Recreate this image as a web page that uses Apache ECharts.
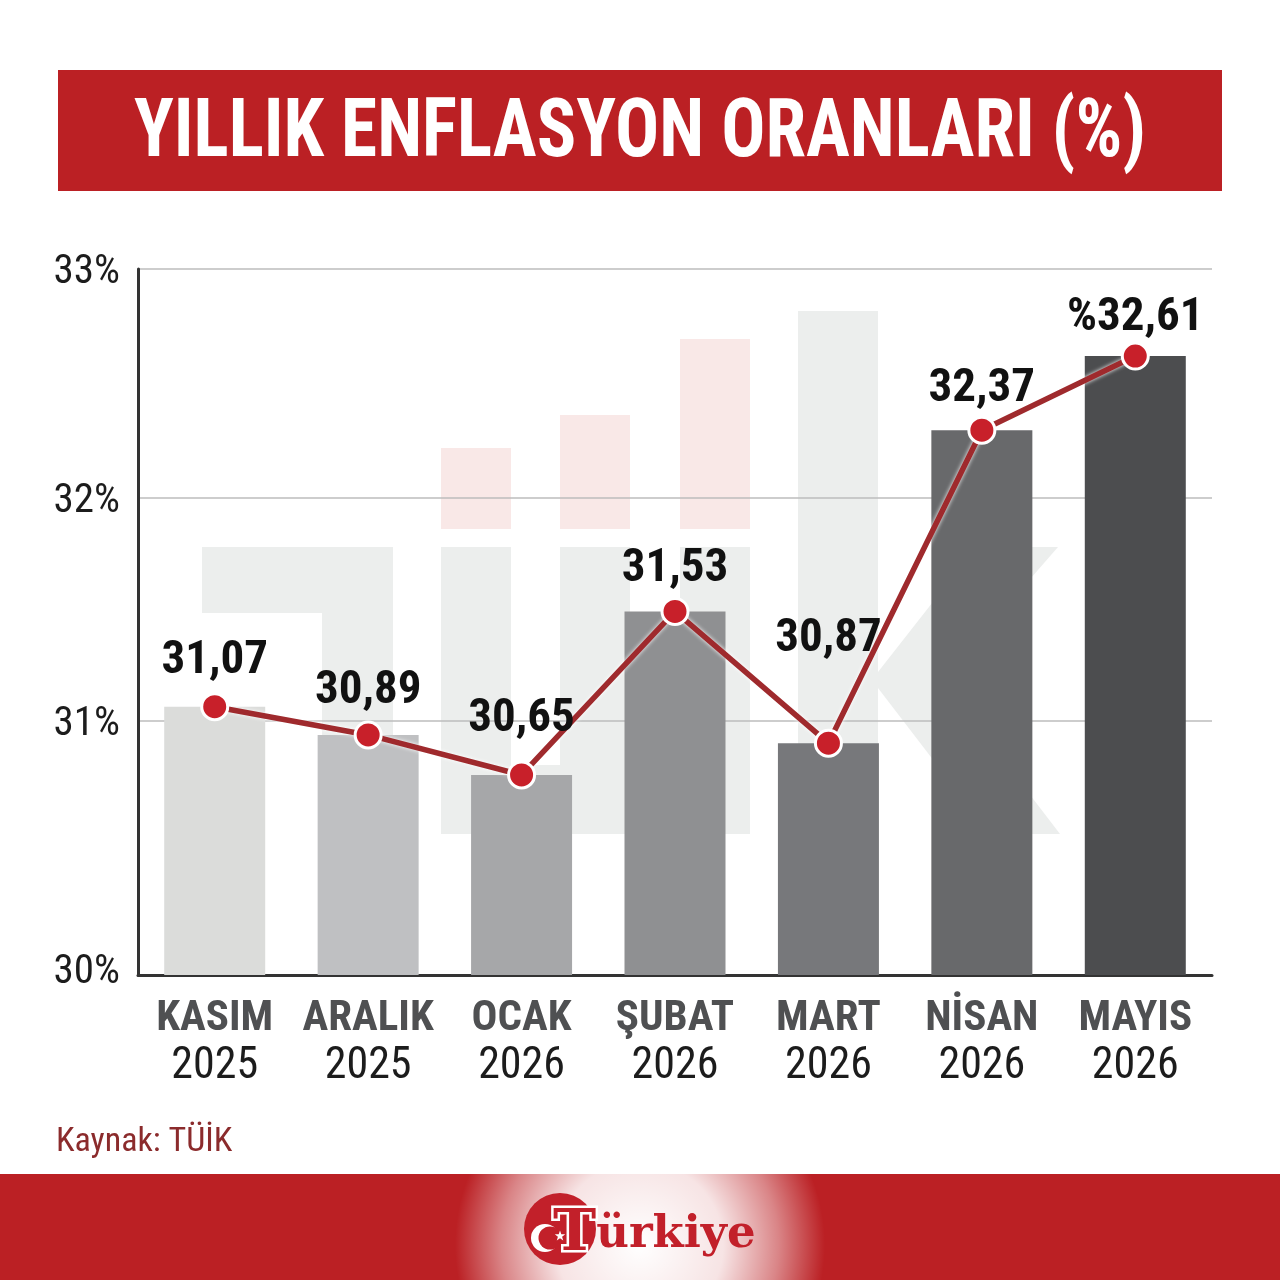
<!DOCTYPE html>
<html>
<head>
	<meta charset="UTF-8">
	<title>Yıllık Enflasyon Oranları</title>
	<script src="https://cdn.jsdelivr.net/npm/echarts@6/dist/echarts.min.js"></script>
	<style>
		html, body { margin: 0; padding: 0; background: #fff; }
	</style>
</head>

<body>
	<div id="main" style="width: 1280px; height: 1280px;"></div>
	<script>
		var months = ['KASIM', 'ARALIK', 'OCAK', 'ŞUBAT', 'MART', 'NİSAN', 'MAYIS'];
		var years = ['2025', '2025', '2026', '2026', '2026', '2026', '2026'];
		// printed figures, as they stand on the picture
		var printedValues = ['31,07', '30,89', '30,65', '31,53', '30,87', '32,37', '%32,61'];
		// bar heights as drawn on the picture; they do not follow the printed figures exactly
		var drawnValues = [31.14, 31.02, 30.85, 31.545, 30.985, 32.315, 32.63];
		// the picture's gridlines are unevenly spaced too, so ticks sit where they are drawn
		var tickValues = [30, 31.08, 32.03, 33];
		var tickLabels = ['30%', '31%', '32%', '33%'];

		var barColors = ['#dbdcda', '#bfc0c2', '#a6a7a9', '#8f9092', '#77787b', '#68696b', '#4c4d4f'];
		var labelOffsets = [[0, -2], [0, -1], [0, -13], [0, 1], [0, -61], [0, 2], [0, 5]];

		var narrow = '"Roboto Condensed"';
		var red = '#bb2024';
		var logoRed = '#c2202a';
		var paleGrey = '#eceeed';
		var paleRed = '#f9e8e7';

		// TÜİK watermark behind the bars
		var watermark = [
			[202, 547, 191, 66, paleGrey], [322, 547, 71, 287, paleGrey],
			[441, 547, 70, 287, paleGrey], [560, 547, 70, 287, paleGrey], [511, 765, 49, 69, paleGrey],
			[680, 547, 70, 287, paleGrey], [798, 311, 80, 523, paleGrey],
			[441, 448, 70, 81, paleRed], [560, 415, 70, 114, paleRed], [680, 339, 70, 190, paleRed]
		];

		var graphics = [];
		for (var i = 0; i < watermark.length; i++) {
			var w = watermark[i];
			graphics.push({
				type : 'rect',
				z : -10,
				shape : { x : w[0], y : w[1], width : w[2], height : w[3] },
				style : { fill : w[4] }
			});
		}
		graphics.push({
			type : 'polygon',
			z : -10,
			shape : { points : [[878, 672], [976, 547], [1058, 547], [942, 680], [1060, 834], [990, 834], [878, 688]] },
			style : { fill : paleGrey }
		});

		// title banner, the text is squeezed a bit to get the reference's tall letters
		graphics.push({
			type : 'rect',
			z : -5,
			shape : { x : 58, y : 70, width : 1164, height : 121 },
			style : { fill : red }
		});
		graphics.push({
			type : 'text',
			z : 5,
			x : 640,
			y : 135,
			scaleX : 0.895,
			style : {
				text : 'YILLIK ENFLASYON ORANLARI (%)',
				fontFamily : narrow,
				fontWeight : 'bold',
				fontSize : 82,
				fill : '#fff',
				align : 'center',
				verticalAlign : 'middle'
			}
		});

		// footer band with the white glow
		graphics.push({
			type : 'rect',
			z : -5,
			shape : { x : 0, y : 1174, width : 1280, height : 106 },
			style : { fill : red }
		});
		graphics.push({
			type : 'rect',
			z : -4,
			shape : { x : 440, y : 1174, width : 400, height : 106 },
			style : {
				fill : new echarts.graphic.RadialGradient(640, 1245, 185, [
					{ offset : 0, color : 'rgba(255,255,255,1)' },
					{ offset : 0.45, color : 'rgba(255,255,255,0.88)' },
					{ offset : 0.75, color : 'rgba(255,255,255,0.45)' },
					{ offset : 1, color : 'rgba(255,255,255,0)' }
				], true)
			}
		});

		// logo: red disc, crescent and star
		graphics.push({ type : 'circle', z : 5, shape : { cx : 560, cy : 1229, r : 36 }, style : { fill : logoRed } });
		graphics.push({ type : 'circle', z : 6, shape : { cx : 545, cy : 1238, r : 14 }, style : { fill : '#fff' } });
		graphics.push({ type : 'circle', z : 7, shape : { cx : 550, cy : 1238, r : 11.5 }, style : { fill : logoRed } });
		var starPoints = [];
		for (var k = 0; k < 10; k++) {
			var r = k % 2 ? 2.2 : 5.5;
			var a = -Math.PI / 2 + k * Math.PI / 5;
			starPoints.push([560 + r * Math.cos(a), 1236 + r * Math.sin(a)]);
		}
		graphics.push({ type : 'polygon', z : 9, shape : { points : starPoints }, style : { fill : '#fff' } });
		graphics.push({
			type : 'text',
			z : 8,
			x : 553,
			y : 1206,
			style : {
				text : '{t|T}{r|ürkiye}',
				rich : {
					t : {
						fontFamily : '"DejaVu Serif"', fontWeight : 'bold', fontSize : 58, fill : logoRed,
						stroke : '#fff', lineWidth : 5
					},
					r : { fontFamily : '"DejaVu Serif"', fontWeight : 'bold', fontSize : 45, fill : logoRed }
				}
			}
		});

		var lineData = [];
		for (var j = 0; j < drawnValues.length; j++) {
			lineData.push({
				value : drawnValues[j],
				label : { offset : labelOffsets[j] }
			});
		}

		var barData = [];
		for (var b = 0; b < drawnValues.length; b++) {
			barData.push({ value : drawnValues[b], itemStyle : { color : barColors[b] } });
		}

		var categories = [];
		for (var c = 0; c < months.length; c++) {
			categories.push(months[c] + '\n' + years[c]);
		}

		var myChart = echarts.init(document.getElementById('main'));

		var option = {
			animation : false,
			backgroundColor : '#fff',
			title : {
				text : 'Kaynak: TÜİK',
				left : 56,
				top : 1122,
				padding : 0,
				textStyle : { color : '#8b2b2c', fontFamily : narrow, fontWeight : 'normal', fontSize : 34, lineHeight : 40 }
			},
			graphic : graphics,
			grid : { left : 138, right : 68, top : 269, bottom : 305 },
			xAxis : {
				type : 'category',
				data : categories,
				axisLine : { lineStyle : { color : '#333', width : 3 } },
				axisTick : { show : false },
				axisLabel : {
					margin : 20,
					interval : 0,
					formatter : function(value) {
						var parts = value.split('\n');
						return '{m|' + parts[0] + '}\n{y|' + parts[1] + '}';
					},
					rich : {
						m : { fontFamily : narrow, fontWeight : 'bold', fontSize : 43, lineHeight : 48, color : '#4f5052' },
						y : { fontFamily : narrow, fontSize : 44, lineHeight : 48, color : '#1c1c1c' }
					}
				}
			},
			yAxis : {
				type : 'value',
				min : 30,
				max : 33,
				axisLine : { show : true, lineStyle : { color : '#333', width : 3 } },
				axisTick : { show : false, customValues : tickValues },
				splitLine : { show : true, customValues : tickValues, lineStyle : { color : '#bdbdbd', width : 1.5 } },
				axisLabel : {
					customValues : tickValues,
					margin : 18,
					formatter : function(value) {
						var name = value === 30 ? 'low' : 'up';
						return '{' + name + '|' + tickLabels[tickValues.indexOf(value)] + '}';
					},
					rich : {
						up : { fontFamily : narrow, fontSize : 41, color : '#1c1c1c', padding : [8, 0, 0, 0] },
						low : { fontFamily : narrow, fontSize : 41, color : '#1c1c1c', padding : [0, 0, 5, 0] }
					}
				}
			},
			series : [ {
				type : 'bar',
				barWidth : 101,
				data : barData
			}, {
				type : 'line',
				data : lineData,
				symbol : 'circle',
				symbolSize : 26,
				itemStyle : { color : '#c8202a', borderColor : '#fff', borderWidth : 3 },
				lineStyle : { color : '#9f2a2d', width : 5.5, shadowColor : '#fff', shadowBlur : 4 },
				label : {
					show : true,
					position : 'top',
					fontFamily : narrow,
					fontWeight : 'bold',
					fontSize : 47,
					color : '#111',
					formatter : function(params) {
						return printedValues[params.dataIndex];
					}
				}
			} ]
		};
		myChart.setOption(option);
	</script>
</body>
</html>
